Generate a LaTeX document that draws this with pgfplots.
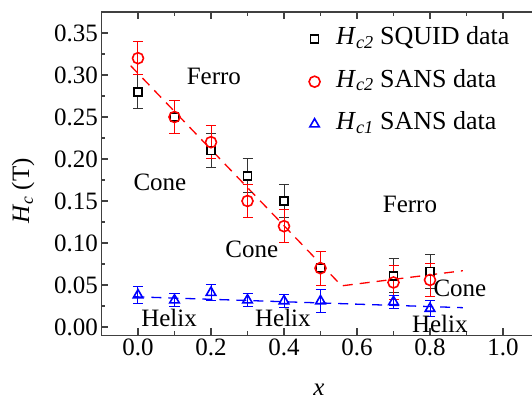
\documentclass[border=0pt]{standalone}
\usepackage{fontspec}
\setmainfont{Liberation Serif}
\usepackage{pgfplots}
\pgfplotsset{compat=1.18}

\definecolor{sansred}{RGB}{255,0,0}
\definecolor{sansblue}{RGB}{0,0,255}
\definecolor{axgray}{RGB}{64,64,64}

\newcommand{\bigfont}{\fontsize{25bp}{30bp}\selectfont}
\newcommand{\legfont}{\fontsize{26bp}{30bp}\selectfont}

\begin{document}
\begin{tikzpicture}
\begin{axis}[
  name=ph,
  scale only axis,
  width=438bp, height=323.4bp,
  xmin=-0.1, xmax=1.1, ymin=-0.01, ymax=0.375,
  xtick={0,0.2,0.4,0.6,0.8,1.0},
  minor xtick={0.1,0.3,0.5,0.7,0.9},
  ytick={0,0.05,0.1,0.15,0.2,0.25,0.3,0.35},
  minor ytick={0.025,0.075,0.125,0.175,0.225,0.275,0.325},
  tick align=inside,
  major tick length=7bp, minor tick length=4bp,
  every tick/.style={line width=1.2bp, axgray},
  axis line style={line width=1.5bp, axgray},
  /pgf/number format/assume math mode=true,
  tick label style={font=\bigfont},
  xticklabel style={/pgf/number format/.cd, fixed, fixed zerofill, precision=1},
  yticklabel style={/pgf/number format/.cd, fixed, fixed zerofill, precision=2},
  xlabel={\textit{x}},
  ylabel={\textit{H}\textsubscript{\textit{c}} (T)},
  every axis x label/.style={at={(axis description cs:0.4966,-0.186)}, anchor=base, font=\bigfont},
  every axis y label/.style={at={(axis description cs:-0.179,0.446)}, rotate=90, anchor=center, font=\bigfont},
  legend style={at={(axis cs:0.46,0.3625)}, anchor=north west, draw=none, fill=none,
    font=\legfont, row sep=13.5bp,
    nodes={inner sep=2bp, text height=18bp, text depth=7bp},
    /tikz/every odd column/.append style={column sep=14bp}},
  legend cell align=left,
  clip=false,
]

% phase boundary guides
\addplot[forget plot, sansred, line width=1.3bp, dash pattern=on 10bp off 7bp]
  coordinates {(-0.02,0.311) (0.558,0.049) (0.89,0.067)};
\addplot[forget plot, sansblue, line width=1.3bp, dash pattern=on 10bp off 7bp]
  coordinates {(-0.01,0.036) (0.89,0.023)};

% Hc2 from magnetisation
\addplot[only marks, mark=square*, mark size=4bp,
  mark options={draw=black, fill=white, line width=1.6bp},
  error bars/.cd, y dir=both, y explicit,
  error bar style={black!80, line width=1bp},
  error mark options={rotate=90, mark size=5bp, line width=1bp, black!80}]
  coordinates {
    (0.0,0.28)  +- (0,0.02)
    (0.1,0.25)  +- (0,0.02)
    (0.2,0.21)  +- (0,0.02)
    (0.3,0.18)  +- (0,0.02)
    (0.4,0.15)  +- (0,0.02)
    (0.5,0.07)  +- (0,0.02)
    (0.7,0.061) +- (0,0.02)
    (0.8,0.066) +- (0,0.02)
  };
\addlegendentry{\textit{H}\textsubscript{\textit{c2}} SQUID data}

% Hc2 from neutron scattering
\addplot[only marks, mark=o, mark size=5.5bp,
  mark options={draw=sansred, line width=1.6bp},
  error bars/.cd, y dir=both, y explicit,
  error bar style={sansred, line width=1bp},
  error mark options={rotate=90, mark size=5bp, line width=1bp, sansred}]
  coordinates {
    (0.0,0.32)  +- (0,0.02)
    (0.1,0.25)  +- (0,0.02)
    (0.2,0.22)  +- (0,0.02)
    (0.3,0.15)  +- (0,0.02)
    (0.4,0.12)  +- (0,0.02)
    (0.5,0.07)  +- (0,0.02)
    (0.7,0.053) +- (0,0.02)
    (0.8,0.056) +- (0,0.02)
  };
\addlegendentry{\textit{H}\textsubscript{\textit{c2}} SANS data}

% Hc1 from neutron scattering
\addplot[only marks, mark=triangle, mark size=5.5bp,
  mark options={draw=sansblue, line width=1.6bp},
  error bars/.cd, y dir=both, y explicit,
  error bar style={sansblue, line width=1bp},
  error mark options={rotate=90, mark size=5bp, line width=1bp, sansblue}]
  coordinates {
    (0.0,0.038) +- (0,0.01)
    (0.1,0.032) +- (0,0.008)
    (0.2,0.041) +- (0,0.009)
    (0.3,0.032) +- (0,0.008)
    (0.4,0.031) +- (0,0.008)
    (0.5,0.031) +- (0,0.014)
    (0.7,0.030) +- (0,0.008)
    (0.8,0.022) +- (0,0.009)
  };
\addlegendentry{\textit{H}\textsubscript{\textit{c1}} SANS data}

% phase labels
\begin{scope}[every node/.style={font=\bigfont, anchor=base, inner sep=0pt}]
  \node at (axis cs:0.208,0.289) {Ferro};
  \node at (axis cs:0.060,0.163) {Cone};
  \node at (axis cs:0.312,0.083) {Cone};
  \node at (axis cs:0.745,0.136) {Ferro};
  \node at (axis cs:0.882,0.036) {Cone};
  \node at (axis cs:0.085,0.001) {Helix};
  \node at (axis cs:0.397,0.001) {Helix};
  \node at (axis cs:0.827,-0.007) {Helix};
\end{scope}
\end{axis}
\pgfresetboundingbox
\path[use as bounding box]
  ([shift={(-101.5bp,-65.6bp)}]ph.south west) rectangle ([shift={(430.5bp,12bp)}]ph.north west);
\end{tikzpicture}
\end{document}
